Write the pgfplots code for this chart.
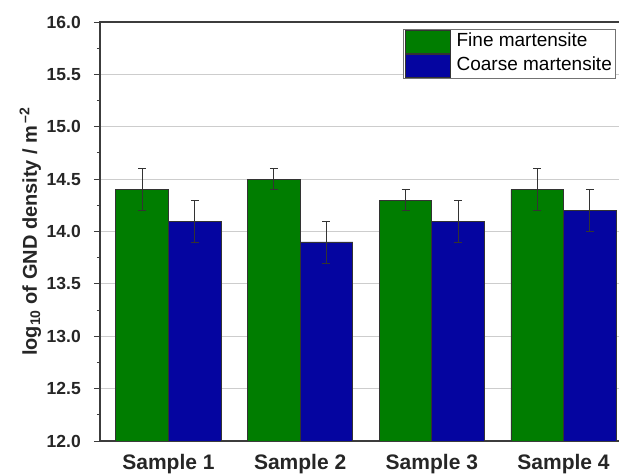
\documentclass[border=0pt]{standalone}
\usepackage{fontspec}
\setmainfont{Liberation Sans}
\usepackage{pgfplots}
\pgfplotsset{compat=1.18}
\definecolor{finegreen}{RGB}{0,125,0}
\definecolor{coarseblue}{RGB}{5,5,160}
\definecolor{gridgray}{RGB}{205,205,205}
\definecolor{axgray}{RGB}{60,60,60}
\begin{document}
\begin{tikzpicture}
\useasboundingbox (0,0) rectangle (619pt,474pt);
\clip (0,0) rectangle (619pt,474pt);
\begin{axis}[
  at={(100pt,33pt)}, anchor=south west,
  scale only axis, width=532pt, height=419pt,
  xmin=0.48, xmax=4.52, ymin=12, ymax=16,
  ybar=0pt, bar width=0.4,
  xtick={1,2,3,4},
  xticklabels={Sample 1,Sample 2,Sample 3,Sample 4},
  ytick={12,12.5,13,13.5,14,14.5,15,15.5,16},
  minor y tick num=1,
  xtick pos=bottom, ytick pos=left,
  tick align=outside,
  x tick style={draw=none},
  major tick length=6pt, minor tick length=3pt,
  y tick style={axgray, line width=0.9pt},
  ymajorgrids, major grid style={gridgray, line width=0.9pt},
  axis line style={axgray, line width=1.4pt},
  yticklabel={\fontsize{17.5}{20}\selectfont\bfseries\pgfmathprintnumber[fixed,fixed zerofill,precision=1,assume math mode=true]{\tick}},
  yticklabel style={text=black!85, anchor=east, inner sep=0pt, xshift=-13pt},
  xticklabel style={font=\fontsize{21}{24}\selectfont\bfseries, text=black!85, anchor=base, yshift=-23pt},
  ylabel={log\textsubscript{10} of GND density / m\textsuperscript{\,–2}},
  every axis y label/.style={at={(rel axis cs:0,0.5)}, xshift=-63pt, anchor=base, rotate=90, font=\fontsize{20}{24}\selectfont\bfseries, text=black!85},
  legend style={at={(rel axis cs:0.5695,0.9833)}, anchor=north west, draw=black!55, line width=0.9pt,
    font=\fontsize{19}{22}\selectfont, inner xsep=2pt, inner ysep=1pt, row sep=0pt,
    nodes={inner sep=1.5pt, text height=14pt, text depth=4pt}},
  legend cell align=left,
  legend image code/.code={\draw[#1, draw=black!80, line width=0.7pt] (0pt,-12pt) rectangle (45pt,11pt); \path (49pt,0pt);},
  error bars/y dir=both, error bars/y explicit,
  error bars/error mark=|,
  error bars/error bar style={black!80, line width=0.8pt},
  error bars/error mark options={black!80, mark size=4pt, line width=0.8pt},
]
\addplot[fill=finegreen, draw=black!80, line width=0.7pt]
  coordinates {(1,14.4) +- (0,0.2) (2,14.5) +- (0,0.1) (3,14.3) +- (0,0.1) (4,14.4) +- (0,0.2)};
\addplot[fill=coarseblue, draw=black!80, line width=0.7pt]
  coordinates {(1,14.1) +- (0,0.2) (2,13.9) +- (0,0.2) (3,14.1) +- (0,0.2) (4,14.2) +- (0,0.2)};
\legend{Fine martensite, Coarse martensite}
\end{axis}
\end{tikzpicture}
\end{document}
